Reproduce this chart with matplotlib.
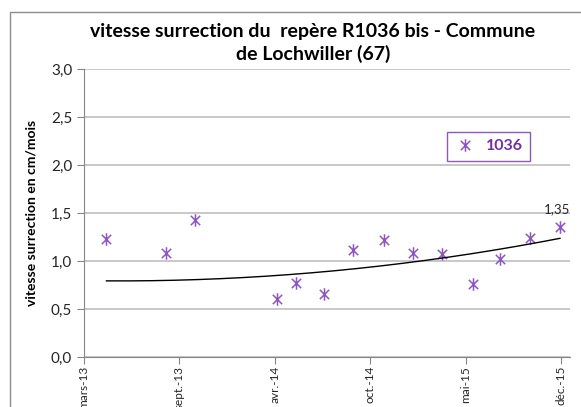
import matplotlib
matplotlib.use("Agg")
import matplotlib.pyplot as plt
import matplotlib.dates as mdates
from matplotlib.path import Path
from matplotlib.patches import Rectangle
import numpy as np

plt.rcParams['font.family'] = ['Lato', 'DejaVu Sans']

# data
dates = ['2013-04-24', '2013-08-27', '2013-10-27', '2014-04-17', '2014-05-26',
         '2014-07-24', '2014-09-23', '2014-11-26', '2015-01-27', '2015-03-27',
         '2015-06-01', '2015-07-27', '2015-09-28', '2015-11-30']
vitesse = [1.23, 1.08, 1.43, 0.60, 0.77, 0.66, 1.11, 1.22, 1.08, 1.07,
           0.76, 1.02, 1.24, 1.35]
tick_dates = ['2013-03-08', '2013-09-24', '2014-04-12', '2014-10-29', '2015-05-17', '2015-12-03']
tick_labels = ['mars-13', 'sept.-13', 'avr.-14', 'oct.-14', 'mai-15', 'déc.-15']
serie_name = '1036'
# trend line as shown on the chart: y = c*d^2 + b*d + a, d = days since first measure
trend_coef = [5.21e-7, -2.85e-5, 0.793]

purple = '#7030a0'
marker_col = '#8e55c4'

x = mdates.datestr2num(dates)
xt = mdates.datestr2num(tick_dates)
y = np.array(vitesse)

# asterisk marker like excel's
star = Path([(0, -1), (0, 1), (-0.75, -0.75), (0.75, 0.75), (-0.75, 0.75), (0.75, -0.75)],
            [Path.MOVETO, Path.LINETO, Path.MOVETO, Path.LINETO, Path.MOVETO, Path.LINETO])

fig = plt.figure(figsize=(5.81, 4.07), dpi=100)
fig.patches.append(Rectangle((10/581, -0.1), 1.2, (407-12)/407 + 0.1, transform=fig.transFigure,
                             fill=False, edgecolor='#8c8c8c', lw=1.0))
ax = fig.add_axes([84/581, 1 - 357/407, (570-84)/581, (357-69)/407])

ax.plot(x, y, linestyle='none', marker=star, markersize=9, markeredgewidth=1.1,
        color=marker_col, label=serie_name)

xs = np.linspace(x[0], x[-1], 200)
ax.plot(xs, np.polyval(trend_coef, xs - x[0]), color='black', lw=1.0)

ax.annotate('1,35', (x[-1], y[-1]), xytext=(-2, 9), textcoords='offset points',
            ha='center', va='bottom', fontsize=9.5, color='#262626')

ax.set_xlim(xt[0], xt[0] + 1018)
ax.set_ylim(0, 3)
yt = np.arange(0, 3.01, 0.5)
ax.set_yticks(yt)
ax.set_yticklabels([f'{v:.1f}'.replace('.', ',') for v in yt], fontsize=11)
ax.set_xticks(xt)
ax.set_xticklabels(tick_labels, rotation=90, fontsize=8.5, va='top')
ax.grid(axis='y', color='#bfbfbf', lw=1.2)
ax.set_axisbelow(True)
for s in ['top', 'right']:
    ax.spines[s].set_visible(False)
for s in ['left', 'bottom']:
    ax.spines[s].set_color('#868686')
ax.tick_params(axis='both', color='#868686', length=5, colors='#262626')
ax.tick_params(axis='x', pad=1.5)

ax.set_ylabel('vitesse surrection en cm/mois', fontsize=10, fontweight='bold', labelpad=10)

fig.text(313/581, 1 - 31/407, 'vitesse surrection du  repère R1036 bis - Commune',
         ha='center', va='center', fontsize=14, fontweight='bold')
fig.text(313/581, 1 - 54/407, 'de Lochwiller (67)',
         ha='center', va='center', fontsize=14, fontweight='bold')

leg = ax.legend(loc='upper left', bbox_to_anchor=((439-84)/486, (357-124)/288), frameon=True,
                fancybox=False, handlelength=1.4, handletextpad=0.6, borderpad=0.45, fontsize=11.5)
leg.get_frame().set_edgecolor(purple)
leg.get_frame().set_linewidth(1.0)
for t in leg.get_texts():
    t.set_color(purple)
    t.set_fontweight('bold')

fig.savefig('out.png', dpi=100)
